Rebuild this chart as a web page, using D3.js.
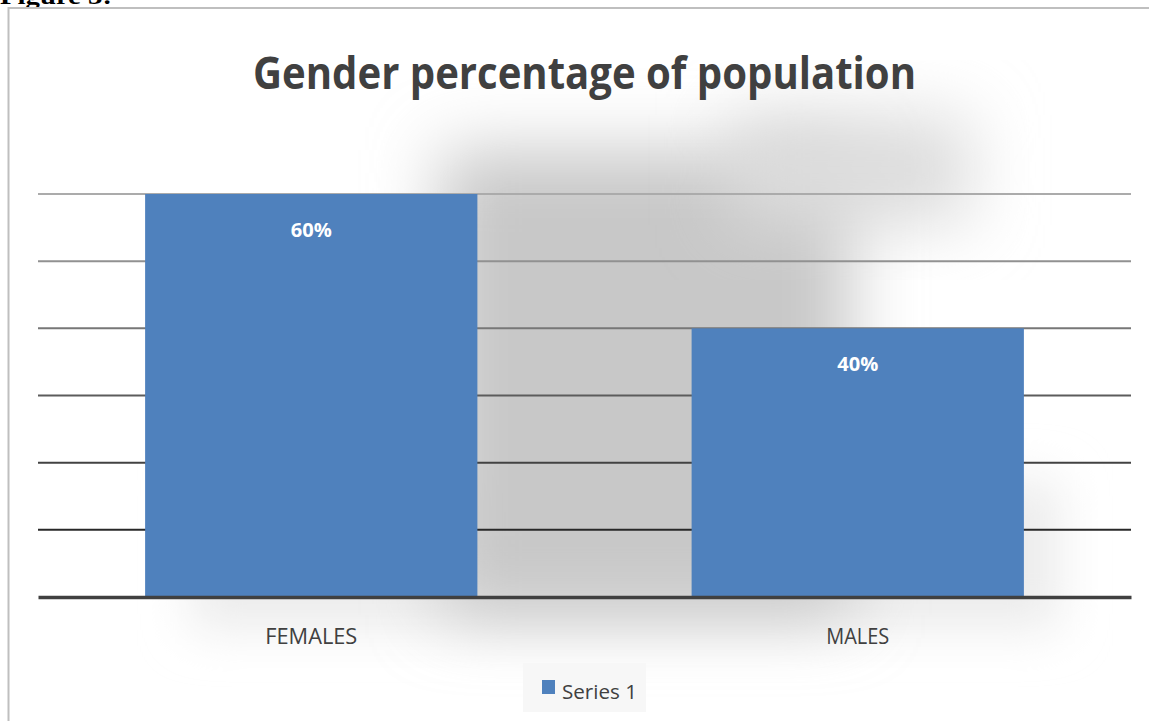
<!DOCTYPE html>
<html>
<head>
<meta charset="utf-8">
<script src="https://cdn.jsdelivr.net/npm/d3@7"></script>
<style>
  html, body { margin: 0; padding: 0; background: #ffffff; }
  svg { display: block; }
</style>
</head>
<body>
<svg id="chart" width="1149" height="721"></svg>
<script>
// Chart data
const categories = ["FEMALES", "MALES"];
const values = [0.60, 0.40];
const seriesName = "Series 1";
const gridTicks = [0, 0.1, 0.2, 0.3, 0.4, 0.5, 0.6];
const chartTitle = "Gender percentage of population";
const captionText = "Figure 3:";

const W = 1149, H = 721;
const svg = d3.select("#chart");
const defs = svg.append("defs");

// soft shadow behind the plot
const blurBig = defs.append("filter").attr("id", "blurBig")
  .attr("x", "-50%").attr("y", "-50%").attr("width", "200%").attr("height", "200%");
blurBig.append("feGaussianBlur").attr("stdDeviation", 34);
const blurWide = defs.append("filter").attr("id", "blurWide")
  .attr("x", "-50%").attr("y", "-50%").attr("width", "200%").attr("height", "200%");
blurWide.append("feGaussianBlur").attr("stdDeviation", 24);

defs.append("clipPath").attr("id", "frameClip")
  .append("rect").attr("x", 9).attr("y", 9).attr("width", W).attr("height", H);

const margin = { left: 38, right: 1131, top: 194, bottom: 597 };

const x = d3.scaleBand()
  .domain(categories)
  .range([margin.left, margin.right])
  .paddingInner(0.392)
  .paddingOuter(0.196);

const y = d3.scaleLinear()
  .domain([0, d3.max(gridTicks)])
  .range([margin.bottom, margin.top]);

// caption above the frame
svg.append("text")
  .attr("x", 0).attr("y", 4)
  .attr("font-family", "'Liberation Serif', 'Times New Roman', serif")
  .attr("font-weight", "bold")
  .attr("font-size", 24)
  .attr("textLength", 112)
  .attr("lengthAdjust", "spacingAndGlyphs")
  .attr("fill", "#000")
  .text(captionText);

// chart frame
svg.append("rect")
  .attr("x", 8.5).attr("y", 8).attr("width", W + 10).attr("height", H + 10)
  .attr("fill", "#ffffff")
  .attr("stroke", "#bfbfbf").attr("stroke-width", 2);

const inner = svg.append("g").attr("clip-path", "url(#frameClip)");

// shadow layers
inner.append("rect")
  .attr("x", 190).attr("y", 480).attr("width", 870).attr("height", 150)
  .attr("fill", "#ececec")
  .attr("filter", "url(#blurWide)");
inner.append("rect")
  .attr("x", 440).attr("y", 150).attr("width", 410).attr("height", 465)
  .attr("fill", "#c8c8c8")
  .attr("filter", "url(#blurBig)");
inner.append("rect")
  .attr("x", 730).attr("y", 115).attr("width", 240).attr("height", 110)
  .attr("fill", "#dcdcdc")
  .attr("filter", "url(#blurBig)");

// title
inner.append("text")
  .attr("x", 584.5).attr("y", 89)
  .attr("text-anchor", "middle")
  .attr("font-family", "'Open Sans', 'Noto Sans', sans-serif")
  .attr("font-weight", "bold")
  .attr("font-size", 44)
  .attr("textLength", 663)
  .attr("lengthAdjust", "spacingAndGlyphs")
  .attr("fill", "#404040")
  .text(chartTitle);

// horizontal gridlines, darker toward the base
const gridColor = d3.scaleLinear()
  .domain([0.1, 0.6])
  .range(["#282828", "#ababab"])
  .interpolate(d3.interpolateRgb);

inner.append("g").selectAll("line")
  .data(gridTicks.filter(d => d > 0))
  .join("line")
  .attr("x1", margin.left).attr("x2", margin.right)
  .attr("y1", d => y(d)).attr("y2", d => y(d))
  .attr("stroke", d => gridColor(d))
  .attr("stroke-width", 2);

// bars
inner.append("g").selectAll("rect")
  .data(categories.map((c, i) => ({ c, v: values[i] })))
  .join("rect")
  .attr("x", d => x(d.c))
  .attr("y", d => y(d.v))
  .attr("width", x.bandwidth())
  .attr("height", d => y(0) - y(d.v))
  .attr("fill", "#4f81bd");

// baseline axis
const xAxis = d3.axisBottom(x).tickSize(0).tickPadding(0);
const axisG = inner.append("g")
  .attr("transform", `translate(0,${y(0)})`)
  .call(xAxis);
axisG.select(".domain")
  .attr("stroke", "#404040").attr("stroke-width", 3.5);
axisG.selectAll(".tick text")
  .attr("y", 47)
  .attr("dy", 0)
  .attr("font-family", "'Open Sans', 'Noto Sans', sans-serif")
  .attr("font-size", 21)
  .attr("fill", "#404040")
  .attr("textLength", d => d === "FEMALES" ? 92 : 63)
  .attr("lengthAdjust", "spacingAndGlyphs");

// value labels inside bars
inner.append("g").selectAll("text")
  .data(categories.map((c, i) => ({ c, v: values[i] })))
  .join("text")
  .attr("x", d => x(d.c) + x.bandwidth() / 2)
  .attr("y", d => y(d.v) + 43)
  .attr("text-anchor", "middle")
  .attr("font-family", "'Open Sans', 'Noto Sans', sans-serif")
  .attr("font-weight", "bold")
  .attr("font-size", 20)
  .attr("textLength", 41)
  .attr("lengthAdjust", "spacingAndGlyphs")
  .attr("fill", "#ffffff")
  .text(d => d3.format(".0%")(d.v));

// legend
const legend = inner.append("g");
legend.append("rect")
  .attr("x", 523).attr("y", 663).attr("width", 123).attr("height", 49)
  .attr("fill", "#f7f7f7");
legend.append("rect")
  .attr("x", 542).attr("y", 680).attr("width", 13).attr("height", 14)
  .attr("fill", "#4f81bd");
legend.append("text")
  .attr("x", 562).attr("y", 699)
  .attr("font-family", "'Open Sans', 'Noto Sans', sans-serif")
  .attr("font-size", 20)
  .attr("textLength", 75)
  .attr("lengthAdjust", "spacingAndGlyphs")
  .attr("fill", "#404040")
  .text(seriesName);
</script>
</body>
</html>
